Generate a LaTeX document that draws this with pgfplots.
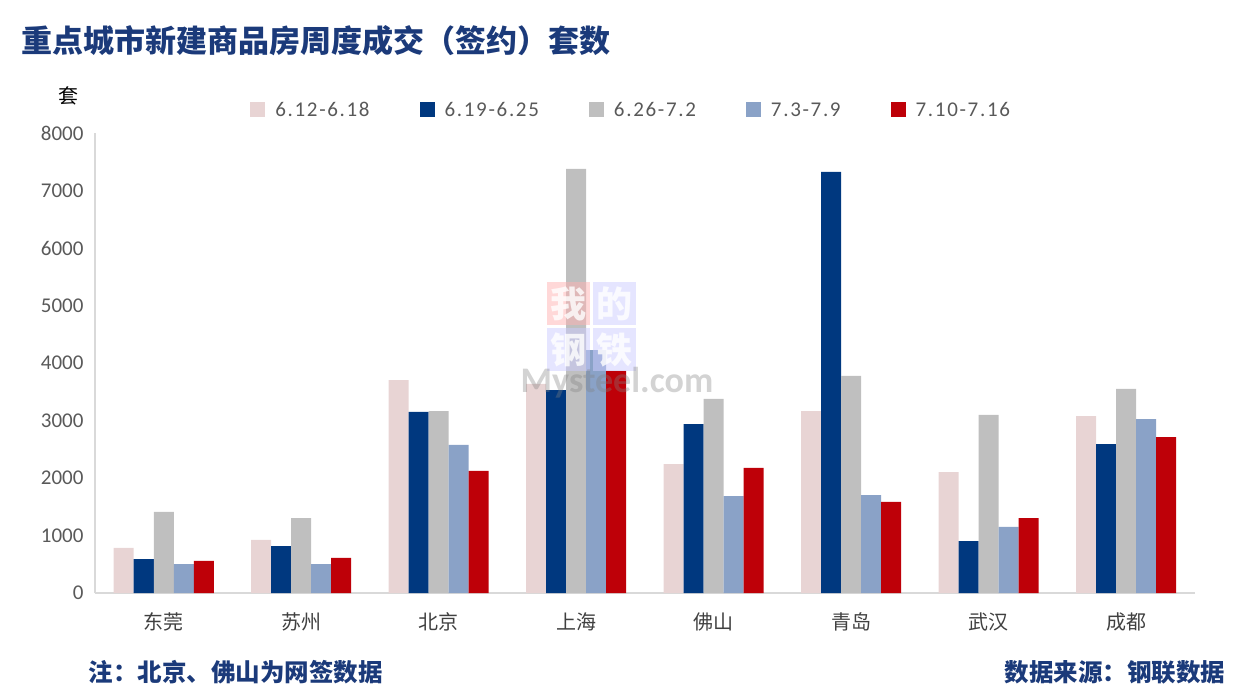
\documentclass[border=0pt]{standalone}
\usepackage{pgfplots}
\pgfplotsset{compat=1.18}
\usepackage{fontspec}
\setmainfont{Carlito}
\newfontfamily\legfont{Carlito}[LetterSpace=8]
\newfontfamily\cjk{Noto Sans CJK SC}
\definecolor{cpink}{HTML}{E8D4D4}
\definecolor{cblue}{HTML}{00387F}
\definecolor{cgray}{HTML}{BFBFBF}
\definecolor{clight}{HTML}{8AA2C7}
\definecolor{cred}{HTML}{BE0008}
\definecolor{axisgray}{HTML}{D9D9D9}
\definecolor{labelgray}{HTML}{404040}
\definecolor{leggray}{HTML}{595959}
\definecolor{titleblue}{HTML}{1B3A7A}

\pgfplotstableread{
x  a     b     c     d     e
0  783   591   1409  504   557
1  922   817   1304  504   609
2  3704  3148  3165  2574  2122
3  3635  3530  7374  4226  3861
4  2243  2939  3374  1687  2174
5  3165  7322  3774  1704  1583
6  2104  904   3096  1148  1304
7  3078  2591  3548  3026  2713
}\weekly

\begin{document}
\begin{tikzpicture}
\path[use as bounding box] (0pt,0pt) rectangle (1234pt,-692pt);
\begin{axis}[
  at={(95pt,-593pt)}, anchor=south west, scale only axis,
  width=1100pt, height=460pt,
  xmin=-0.5, xmax=7.5, ymin=0, ymax=8000,
  ybar=0pt, bar width=20pt,
  axis x line*=bottom, axis y line*=left,
  axis line style={draw=axisgray, line width=1.5pt, -},
  xtick={0,...,7}, xticklabels={东莞,苏州,北京,上海,佛山,青岛,武汉,成都},
  ytick={0,1000,...,8000}, major tick length=0pt,
  scaled y ticks=false,
  /pgf/number format/assume math mode=true,
  /pgf/number format/1000 sep={},
  xticklabel style={font=\cjk\fontsize{20}{24}\selectfont, text=labelgray, yshift=-16pt},
  yticklabel style={font=\fontsize{21}{25}\selectfont, text=leggray, xshift=-8pt},
  legend style={at={(0.141,1.05)}, anchor=west, draw=none, fill=none, inner sep=0pt,
    font=\legfont\fontsize{21}{25}\selectfont, text=leggray, legend columns=5,
    /tikz/every odd column/.append style={column sep=8pt},
    /tikz/every even column/.append style={column sep=48pt}},
  legend image code/.code={\path[#1,draw=none] (0pt,-7.5pt) rectangle (15pt,7.5pt);},
  clip=false,
]
\addplot[fill=cpink, draw=none] table[x=x,y=a] {\weekly};
\addlegendentry{6.12-6.18}
\addplot[fill=cblue, draw=none] table[x=x,y=b] {\weekly};
\addlegendentry{6.19-6.25}
\addplot[fill=cgray, draw=none] table[x=x,y=c] {\weekly};
\addlegendentry{6.26-7.2}
\addplot[fill=clight, draw=none] table[x=x,y=d] {\weekly};
\addlegendentry{7.3-7.9}
\addplot[fill=cred, draw=none] table[x=x,y=e] {\weekly};
\addlegendentry{7.10-7.16}
\end{axis}

% watermark
\fill[red!30, opacity=0.5] (547pt,-282pt) rectangle (590pt,-325pt);
\fill[blue!20, opacity=0.5] (593pt,-282pt) rectangle (636pt,-325pt);
\fill[blue!20, opacity=0.5] (547pt,-328pt) rectangle (590pt,-371pt);
\fill[blue!20, opacity=0.5] (593pt,-328pt) rectangle (636pt,-371pt);
\node[text=white, opacity=0.8, font=\cjk\bfseries\fontsize{36}{36}\selectfont] at (568.5pt,-303.5pt) {我};
\node[text=white, opacity=0.8, font=\cjk\bfseries\fontsize{36}{36}\selectfont] at (614.5pt,-303.5pt) {的};
\node[text=white, opacity=0.8, font=\cjk\bfseries\fontsize{36}{36}\selectfont] at (568.5pt,-349.5pt) {钢};
\node[text=white, opacity=0.8, font=\cjk\bfseries\fontsize{36}{36}\selectfont] at (614.5pt,-349.5pt) {铁};
\node[text=gray, opacity=0.35, font=\bfseries\fontsize{36}{36}\selectfont] at (617pt,-383pt) {Mysteel.com};

% texts
\node[anchor=west, text=titleblue, font=\cjk\bfseries\fontsize{31}{34}\selectfont] at (18pt,-41pt) {重点城市新建商品房周度成交（签约）套数};
\node[text=black, font=\cjk\fontsize{20}{24}\selectfont] at (68pt,-96pt) {套};
\node[anchor=west, text=titleblue, font=\cjk\bfseries\fontsize{24.5}{27}\selectfont] at (85pt,-672pt) {注：北京、佛山为网签数据};
\node[anchor=east, text=titleblue, font=\cjk\bfseries\fontsize{24.5}{27}\selectfont] at (1229pt,-672pt) {数据来源：钢联数据};
\end{tikzpicture}
\end{document}
